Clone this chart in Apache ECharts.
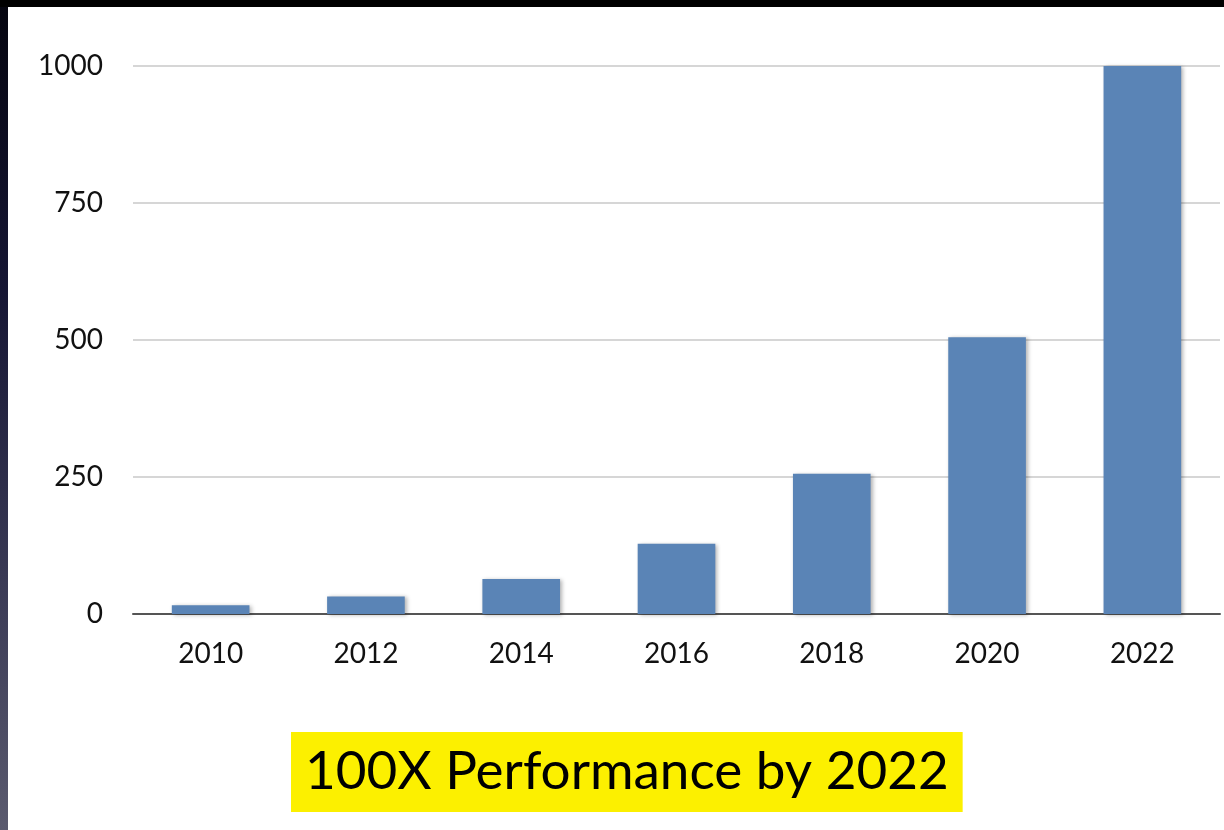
<!DOCTYPE html>
<html>
<head>
<meta charset="utf-8">
<script src="https://cdn.jsdelivr.net/npm/echarts@6/dist/echarts.min.js"></script>
<style>
  html, body { margin: 0; padding: 0; width: 1224px; height: 830px; overflow: hidden; }
  body { background: linear-gradient(to bottom, #05050f 0%, #161634 35%, #3a3a55 70%, #5a5a6e 100%); position: relative; }
  #topband { position: absolute; left: 0; top: 0; width: 1224px; height: 7px; background: #000; }
  #chart { position: absolute; left: 8px; top: 7px; width: 1216px; height: 823px; background: #fff; }
</style>
</head>
<body>
<div id="topband"></div>
<div id="chart"></div>
<script>
// Projected performance, doubling every two years
const years = ['2010', '2012', '2014', '2016', '2018', '2020', '2022'];
const performance = [16, 32, 64, 128, 256, 505, 1002];
const yTicks = [0, 250, 500, 750, 1000];
const headline = '100X Performance by 2022';

const FONT = 'Lato, "Open Sans", sans-serif';

const chart = echarts.init(document.getElementById('chart'), null, { renderer: 'canvas' });
chart.setOption({
  backgroundColor: '#ffffff',
  animation: false,
  title: {
    text: headline,
    left: 283,
    top: 725,
    backgroundColor: '#fcf000',
    padding: [12, 14, 12, 14],
    textStyle: { fontFamily: FONT, fontSize: 53, fontWeight: 'normal', color: '#000', lineHeight: 56 }
  },
  grid: { left: 125, right: 4, top: 59, bottom: 216, containLabel: false },
  xAxis: {
    type: 'category',
    data: years,
    axisLine: { show: true, lineStyle: { color: '#555', width: 2 } },
    axisTick: { show: false },
    axisLabel: { fontFamily: FONT, fontSize: 28, color: '#111', margin: 26 }
  },
  yAxis: {
    type: 'value',
    min: yTicks[0],
    max: yTicks[yTicks.length - 1],
    interval: yTicks[1] - yTicks[0],
    axisLine: { show: false },
    axisTick: { show: false },
    axisLabel: { fontFamily: FONT, fontSize: 28, color: '#111', margin: 30, formatter: v => String(v) },
    splitLine: { lineStyle: { color: '#c8c8c8', width: 1.5 } }
  },
  series: [{
    type: 'bar',
    data: performance,
    barWidth: '50%',
    itemStyle: {
      color: '#5a84b6',
      shadowColor: 'rgba(0,0,0,0.3)',
      shadowBlur: 4,
      shadowOffsetX: 2,
      shadowOffsetY: 1
    }
  }]
});
</script>
</body>
</html>
